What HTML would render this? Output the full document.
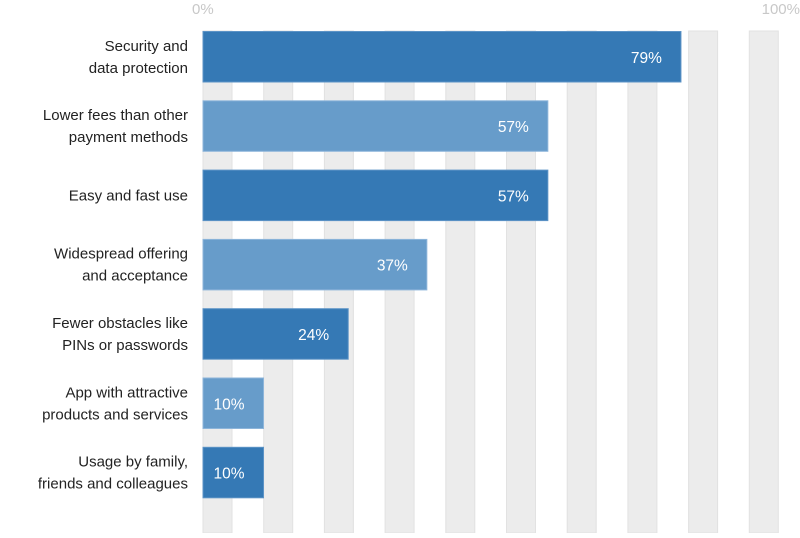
<!DOCTYPE html>
<html><head><meta charset="utf-8"><style>
body{margin:0;background:#fff;width:800px;height:533px;overflow:hidden;font-family:"Liberation Sans",sans-serif}
svg text{font-family:"Liberation Sans",sans-serif}
</style></head><body>
<svg id="chart" width="800" height="533"></svg>
<script>
const categories=[["Security and","data protection"],["Lower fees than other","payment methods"],["Easy and fast use"],["Widespread offering","and acceptance"],["Fewer obstacles like","PINs or passwords"],["App with attractive","products and services"],["Usage by family,","friends and colleagues"]];
const values=[79,57,57,37,24,10,10];
const valueLabels=["79%","57%","57%","37%","24%","10%","10%"];
const tickLabels=["0%","100%"];
const NS="http://www.w3.org/2000/svg";
const svg=document.getElementById('chart');
const x0=203, barScale=6.05;
function xs(v){return x0+v*barScale;}
function yRow(i){return 31.5+i*69.3;}
const barH=50.5;
function mk(t,a){const e=document.createElementNS(NS,t);for(const k in a)e.setAttribute(k,a[k]);svg.appendChild(e);return e;}
// stripes
const stripesG=mk('g',{});


for(let k=0;k<10;k++){
  const r=document.createElementNS(NS,'rect');
  r.setAttribute('x',203+k*60.7);r.setAttribute('y',31);r.setAttribute('width',29);r.setAttribute('height',502);
  r.setAttribute('fill','#ececec');r.setAttribute('stroke','#e2e2e2');r.setAttribute('stroke-width','1');
  
  
  stripesG.appendChild(r);
}
// ticks
const t0=mk('text',{x:192,y:14,fill:'#c8c8c8','font-size':15});t0.textContent=tickLabels[0];


const t1=mk('text',{x:800,y:14,fill:'#c8c8c8','font-size':15,'text-anchor':'end'});t1.textContent=tickLabels[1];


values.forEach((v,i)=>{
  const y=yRow(i);
  const b=mk('rect',{x:x0,y:y,width:xs(v)-x0,height:barH,fill:i%2?'#679cca':'#3579b5',stroke:i%2?'#8db5da':'#5c93c6','stroke-width':1});
  
  
  const vl=mk('text',{x:xs(v)-19,y:y+barH/2+6,fill:'#fff','font-size':15.5,'text-anchor':'end'});
  vl.textContent=valueLabels[i];
  
  
  const lines=categories[i];
  const cl=mk('text',{x:188,fill:'#222','font-size':15,'text-anchor':'end'});
  
  
  lines.forEach((ln,j)=>{
    const ts=document.createElementNS(NS,'tspan');
    ts.setAttribute('x',188);
    ts.setAttribute('y',y+barH/2+5+(j-(lines.length-1)/2)*22);
    ts.textContent=ln;cl.appendChild(ts);
  });
});
</script>
</body></html>
